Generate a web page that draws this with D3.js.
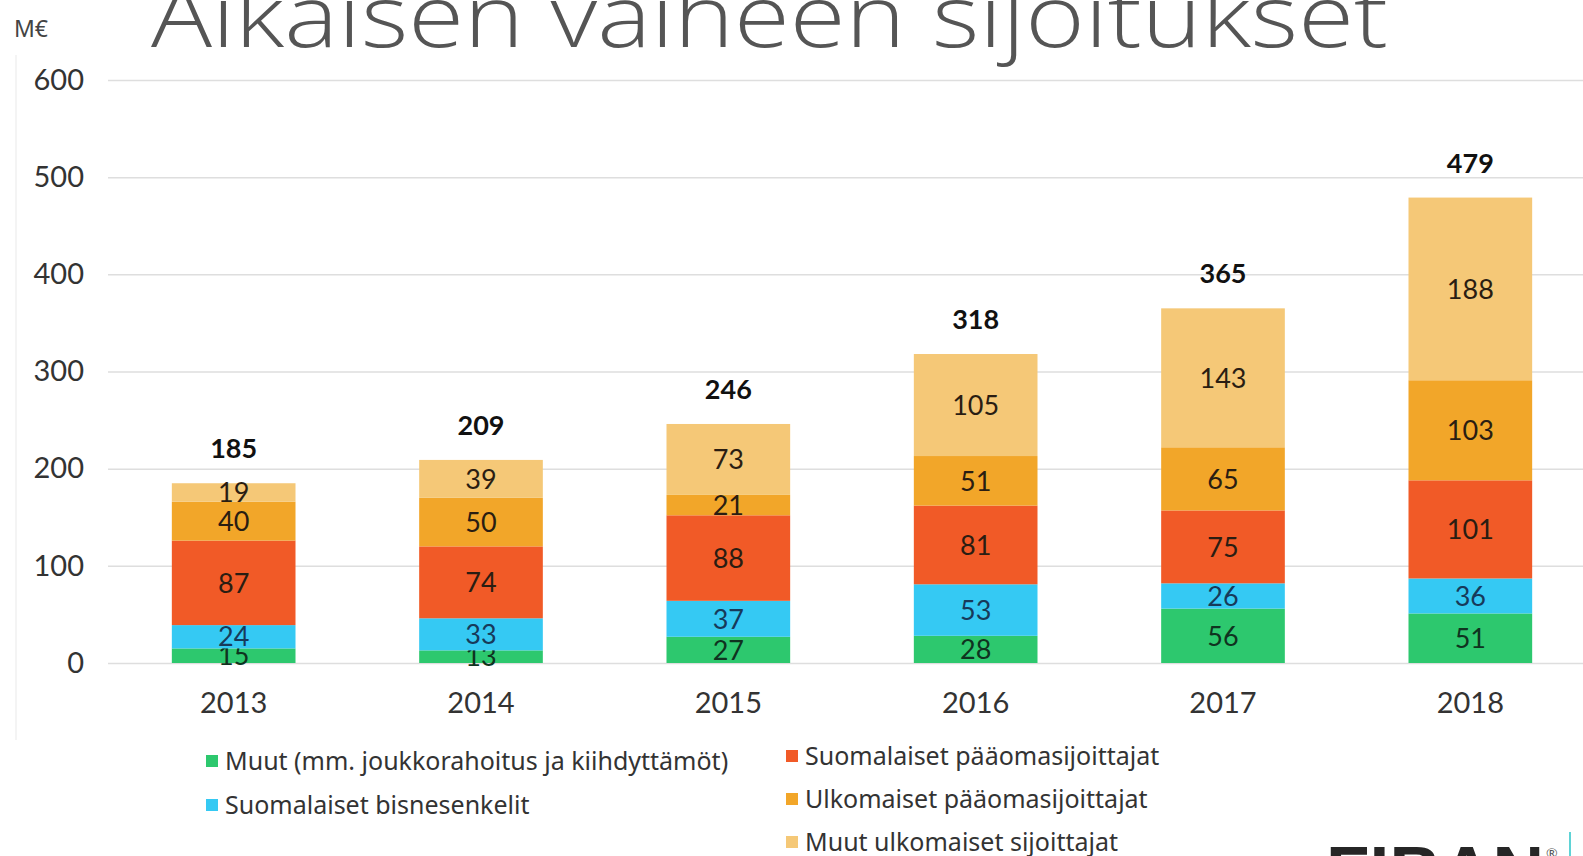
<!DOCTYPE html>
<html>
<head>
<meta charset="utf-8">
<script src="https://cdn.jsdelivr.net/npm/d3@7"></script>
<style>
  html, body { margin: 0; padding: 0; background: #fff; overflow: hidden; }
  svg { display: block; font-family: Lato, "Noto Sans", sans-serif; }
</style>
</head>
<body>
<svg id="chart"></svg>
<script>
const years = ["2013", "2014", "2015", "2016", "2017", "2018"];
const muut = [15, 13, 27, 28, 56, 51];
const bisnesenkelit = [24, 33, 37, 53, 26, 36];
const suomPaaoma = [87, 74, 88, 81, 75, 101];
const ulkoPaaoma = [40, 50, 21, 51, 65, 103];
const muutUlko = [19, 39, 73, 105, 143, 188];
const yTicks = [0, 100, 200, 300, 400, 500, 600];

const seriesKeys = ["muut", "enkelit", "suomPaaoma", "ulkoPaaoma", "muutUlko"];
const seriesNames = [
    "Muut (mm. joukkorahoitus ja kiihdyttämöt)",
    "Suomalaiset bisnesenkelit",
    "Suomalaiset pääomasijoittajat",
    "Ulkomaiset pääomasijoittajat",
    "Muut ulkomaiset sijoittajat"
];
const colors = ["#2dc86e", "#35c9f3", "#f15a27", "#f2a629", "#f5c877"];

const width = 1583;
const height = 856;

const svg = d3.select("#chart")
    .attr("width", width)
    .attr("height", height);

// table for the stack
const table = years.map((y, i) => ({
    year: y,
    muut: muut[i],
    enkelit: bisnesenkelit[i],
    suomPaaoma: suomPaaoma[i],
    ulkoPaaoma: ulkoPaaoma[i],
    muutUlko: muutUlko[i]
}));

const stacked = d3.stack().keys(seriesKeys)(table);

const x = d3.scaleBand()
    .domain(years)
    .range([110, 1594])
    .paddingInner(0.5)
    .paddingOuter(0.25);

const y = d3.scaleLinear()
    .domain([0, 600])
    .range([663, 80]);

// faint frame of the embedded picture
svg.append("line")
    .attr("x1", 16).attr("x2", 16)
    .attr("y1", 55).attr("y2", 740)
    .attr("stroke", "#f4f4f4")
    .attr("stroke-width", 2);

// title, partly cut at the top
svg.append("text")
    .attr("x", 151)
    .attr("y", 47)
    .attr("font-family", "'Open Sans', 'Liberation Sans', sans-serif")
    .attr("font-weight", 300)
    .attr("font-size", 86)
    .attr("fill", "#555")
    .attr("textLength", 1237)
    .attr("lengthAdjust", "spacingAndGlyphs")
    .text("Aikaisen vaiheen sijoitukset");

svg.append("text")
    .attr("x", 14)
    .attr("y", 37)
    .attr("font-family", "'Noto Sans', sans-serif")
    .attr("font-size", 23)
    .attr("fill", "#444")
    .text("M€");

// gridlines and y labels
const yAxis = svg.append("g")
    .attr("transform", "translate(108,0)")
    .call(d3.axisLeft(y).tickValues(yTicks).tickSize(-(width - 108)).tickPadding(24));
yAxis.select(".domain").remove();
yAxis.selectAll(".tick line")
    .attr("stroke", "#dedede")
    .attr("stroke-width", 1.5);
yAxis.selectAll(".tick text")
    .attr("font-family", "Lato, sans-serif")
    .attr("font-size", 29)
    .attr("fill", "#333");

// x labels
const xAxis = svg.append("g")
    .attr("transform", "translate(0,663)")
    .call(d3.axisBottom(x).tickSize(0).tickPadding(24));
xAxis.select(".domain").remove();
xAxis.selectAll(".tick text")
    .attr("font-family", "Lato, sans-serif")
    .attr("font-size", 29)
    .attr("fill", "#333")
    .attr("dy", "0.9em");

// bars
const layers = svg.selectAll("g.layer")
    .data(stacked)
    .enter()
    .append("g")
    .attr("class", "layer")
    .attr("fill", (d, i) => colors[i]);

layers.selectAll("rect")
    .data(d => d)
    .enter()
    .append("rect")
    .attr("x", d => x(d.data.year))
    .attr("y", d => y(d[1]))
    .attr("width", x.bandwidth())
    .attr("height", d => y(d[0]) - y(d[1]));

// segment labels
layers.selectAll("text")
    .data(d => d.map(p => ({ p, key: d.key })))
    .enter()
    .append("text")
    .attr("x", d => x(d.p.data.year) + x.bandwidth() / 2)
    .attr("y", d => (y(d.p[0]) + y(d.p[1])) / 2)
    .attr("dy", "0.36em")
    .attr("text-anchor", "middle")
    .attr("font-size", 27)
    .attr("fill", d => d.key === "enkelit" ? "#173a5a" : (d.key === "muut" ? "#0f3320" : "#2a1d12"))
    .text(d => d.p.data[d.key]);

// totals
svg.selectAll("text.total")
    .data(table)
    .enter()
    .append("text")
    .attr("class", "total")
    .attr("x", d => x(d.year) + x.bandwidth() / 2)
    .attr("y", d => y(d3.sum(seriesKeys, k => d[k])) - 25)
    .attr("text-anchor", "middle")
    .attr("font-size", 27)
    .attr("font-weight", "bold")
    .attr("fill", "#111")
    .text(d => d3.sum(seriesKeys, k => d[k]));

// legend
const legendPos = [
    [206, 761], [206, 805], [786, 756], [786, 799], [786, 842]
];
const legend = svg.selectAll("g.legend")
    .data(seriesNames)
    .enter()
    .append("g")
    .attr("class", "legend")
    .attr("transform", (d, i) => `translate(${legendPos[i][0]},${legendPos[i][1]})`);
legend.append("rect")
    .attr("x", 0).attr("y", -6)
    .attr("width", 12).attr("height", 12)
    .attr("fill", (d, i) => colors[i]);
legend.append("text")
    .attr("x", 19)
    .attr("dy", "0.36em")
    .attr("font-family", "'Noto Sans', sans-serif")
    .attr("font-size", 25)
    .attr("fill", "#333")
    .text(d => d);

// logo, cut at the bottom
svg.append("text")
    .attr("x", 1326)
    .attr("y", 896)
    .attr("font-family", "'Liberation Sans', Arial, sans-serif")
    .attr("font-weight", "bold")
    .attr("font-size", 70)
    .attr("fill", "#262626")
    .attr("textLength", 218)
    .attr("lengthAdjust", "spacingAndGlyphs")
    .text("FIBAN");
svg.append("text")
    .attr("x", 1546)
    .attr("y", 858)
    .attr("font-size", 14)
    .attr("fill", "#555")
    .text("®");
svg.append("line")
    .attr("x1", 1570).attr("x2", 1570)
    .attr("y1", 832).attr("y2", 856)
    .attr("stroke", "#5fd3d6")
    .attr("stroke-width", 2);
</script>
</body>
</html>
